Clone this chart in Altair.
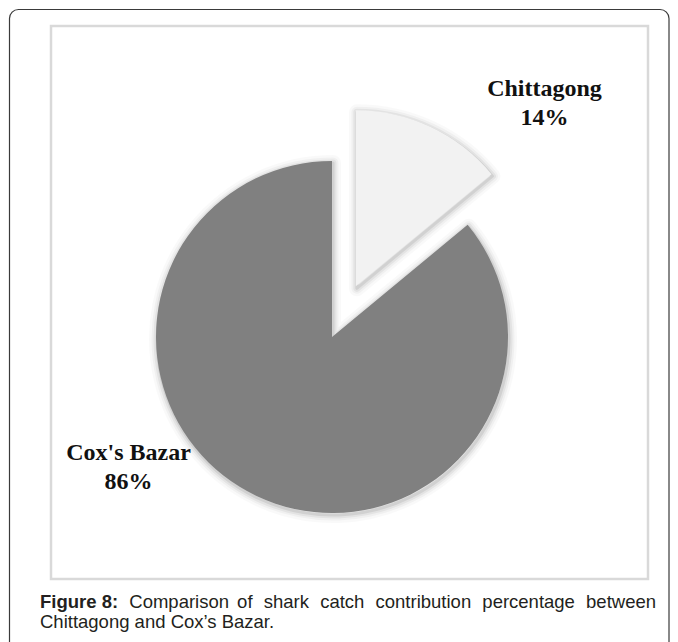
import altair as alt
import pandas as pd

# ---- data -------------------------------------------------------------
regions = ["Chittagong", "Cox's Bazar"]
shares = [14, 86]
explode_px = [56, 0]
slice_colors = ["#f2f2f2", "#808080"]

caption_line1 = ["Figure 8:", "Comparison", "of", "shark", "catch",
                 "contribution", "percentage", "between"]
caption_line2 = "Chittagong and Cox\u2019s Bazar."

# ---- layout -----------------------------------------------------------
W, H = 662, 634
CX, CY, R = 324, 329, 176
CAP_FS = 18.5
CAP_LEFT, CAP_RIGHT = 32, 648
CAP_Y1, CAP_Y2 = 600, 620

# Arial / Liberation Sans advance widths (per 1000 em)
REG = dict(a=556, b=556, c=500, d=556, e=556, f=278, g=556, h=556, i=222, j=222,
           k=500, l=222, m=833, n=556, o=556, p=556, q=556, r=333, s=500, t=278,
           u=556, v=500, w=722, x=500, y=500, z=500)
BOLD = {"F": 611, "i": 278, "g": 611, "u": 611, "r": 389, "e": 556, " ": 278,
        "8": 556, ":": 333}


def word_w(word, bold=False):
    tab = BOLD if bold else REG
    return sum(tab.get(ch, 556) for ch in word) * CAP_FS / 1000.0


widths = [word_w(w, i == 0) for i, w in enumerate(caption_line1)]
gap = (CAP_RIGHT - CAP_LEFT - sum(widths)) / (len(caption_line1) - 1)
xs = []
cur = CAP_LEFT
for wd in widths:
    xs.append(cur)
    cur += wd + gap
cap_df = pd.DataFrame({"w": caption_line1, "x": xs, "y": [CAP_Y1] * len(xs),
                       "bold": [True] + [False] * (len(xs) - 1)})

pie_df = pd.DataFrame({"region": regions, "share": shares,
                       "explode": explode_px, "order": list(range(len(regions)))})

one = pd.DataFrame({"k": [0]})

# ---- frames -----------------------------------------------------------
outer = alt.Chart(one).mark_rect(fill=None, stroke="#3a3a3a", strokeWidth=1.2,
                                 cornerRadius=9).encode(
    x=alt.value(1.5), x2=alt.value(661), y=alt.value(1.5), y2=alt.value(700))

inner = alt.Chart(one).mark_rect(fill="white", stroke="#d9d9d9", strokeWidth=2.5).encode(
    x=alt.value(43), x2=alt.value(640), y=alt.value(18), y2=alt.value(571))

# ---- pie --------------------------------------------------------------
def pie_base(dx=0, dy=0):
    return alt.Chart(pie_df).transform_joinaggregate(
        total="sum(share)"
    ).transform_window(
        cum="sum(share)", sort=[alt.SortField("order")]
    ).transform_calculate(
        t0="2*PI*(datum.cum - datum.share)/datum.total",
        t1="2*PI*datum.cum/datum.total",
    ).transform_calculate(
        mid="(datum.t0 + datum.t1)/2"
    ).transform_calculate(
        px=f"{CX + dx} + datum.explode*sin(datum.mid)",
        py=f"{CY + dy} - datum.explode*cos(datum.mid)",
    )


def pie_enc(ch):
    return ch.encode(
        theta=alt.Theta("t0:Q", scale=None, stack=None),
        theta2=alt.Theta2("t1:Q"),
        x=alt.X("px:Q", scale=None, axis=None),
        y=alt.Y("py:Q", scale=None, axis=None),
    )


shadows = []
for sw, op in [(16, 0.025), (11, 0.035), (7, 0.05), (3, 0.08)]:
    shadows.append(pie_enc(pie_base(1, 2).mark_arc(
        radius=R, fill="#000", fillOpacity=0.0, stroke="#000",
        strokeOpacity=op, strokeWidth=sw, strokeJoin="round")))

pie = pie_enc(pie_base().mark_arc(radius=R, stroke=None)).encode(
    color=alt.Color("region:N", scale=alt.Scale(domain=regions, range=slice_colors),
                    legend=None))

# ---- slice labels -----------------------------------------------------
label_pos = {"Chittagong": (536.5, 88), "Cox's Bazar": (120.5, 452)}
labels = []
for reg, (lx, ly) in label_pos.items():
    labels.append(alt.Chart(pie_df).transform_filter(
        alt.datum.region == reg
    ).transform_calculate(
        lab="datum.region + '\\n' + datum.share + '%'"
    ).mark_text(font="Liberation Serif", fontWeight="bold", fontSize=24,
                lineBreak="\n", lineHeight=29, align="center",
                baseline="alphabetic", color="#111").encode(
        text="lab:N", x=alt.value(lx), y=alt.value(ly)))

# ---- caption ----------------------------------------------------------
cap_bold = alt.Chart(cap_df).transform_filter("datum.bold").mark_text(
    font="Liberation Sans", fontWeight="bold", fontSize=CAP_FS, align="left",
    baseline="alphabetic", color="#231f20").encode(
    x=alt.X("x:Q", scale=None, axis=None), y=alt.Y("y:Q", scale=None, axis=None),
    text="w:N")
cap_reg = alt.Chart(cap_df).transform_filter("!datum.bold").mark_text(
    font="Liberation Sans", fontSize=CAP_FS, align="left",
    baseline="alphabetic", color="#231f20").encode(
    x=alt.X("x:Q", scale=None, axis=None), y=alt.Y("y:Q", scale=None, axis=None),
    text="w:N")
cap2 = alt.Chart(one).mark_text(
    font="Liberation Sans", fontSize=CAP_FS, align="left",
    baseline="alphabetic", color="#231f20", text=caption_line2).encode(
    x=alt.value(CAP_LEFT), y=alt.value(CAP_Y2))

chart = alt.layer(outer, inner, *shadows, pie, *labels, cap_bold, cap_reg, cap2).properties(
    width=W, height=H, autosize=alt.AutoSizeParams(type="none"), padding=0
).configure_view(stroke=None)

chart.save("out.html", embed_options={"renderer": "svg", "actions": False})
